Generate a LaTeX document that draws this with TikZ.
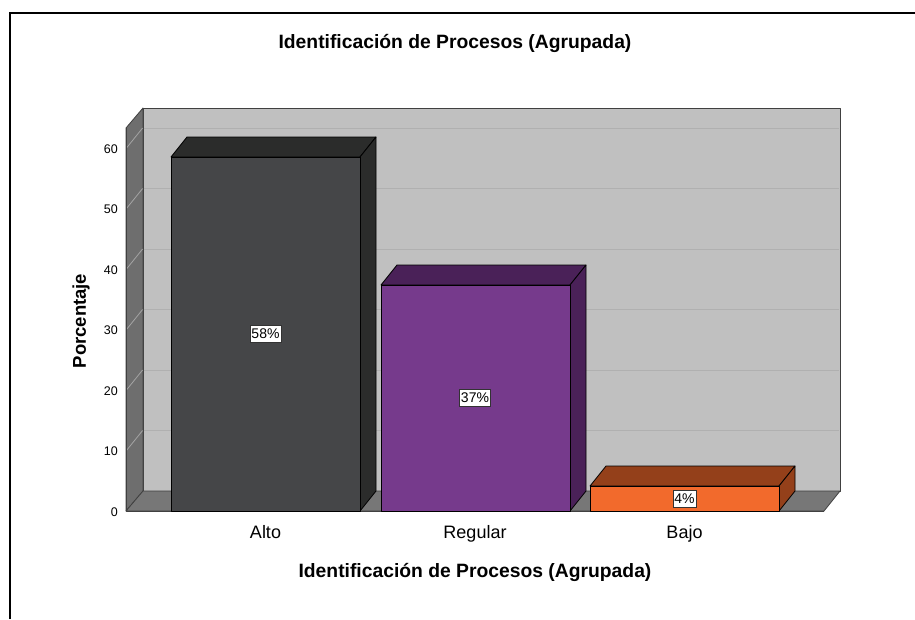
\documentclass[tikz,border=0pt]{standalone}
\usepackage{fontspec}
\setmainfont{Liberation Sans}
\definecolor{wallback}{HTML}{C0C0C0}
\definecolor{wallleft}{HTML}{6E6E6E}
\definecolor{wallfloor}{HTML}{777777}
\definecolor{gridback}{HTML}{B0B0B0}
\definecolor{gridleft}{HTML}{A4A4A4}
\definecolor{altofront}{HTML}{454648}
\definecolor{altodark}{HTML}{2B2C2B}
\definecolor{regfront}{HTML}{763A8C}
\definecolor{regdark}{HTML}{4A2158}
\definecolor{bajofront}{HTML}{F26A2C}
\definecolor{bajodark}{HTML}{94401A}
\newcommand\mybar[4]{%
  \filldraw[barline, fill=#4] (#1,#2) -- ++(16,-20) -- ++(189,0) -- ++(-16,20) -- cycle;
  \filldraw[barline, fill=#4] ({#1+189},#2) -- ++(16,-20) -- ({#1+205},491) -- ({#1+189},511) -- cycle;
  \filldraw[barline, fill=#3] (#1,#2) rectangle ({#1+189},511);
}
\begin{document}
\begin{tikzpicture}[x=1pt,y=-1pt,
  wall/.style={draw=black!75, line width=0.8pt, line join=round},
  barline/.style={draw=black, line width=0.8pt, line join=round},
  tick/.style={font=\fontsize{12.5}{14}\selectfont, anchor=base east, inner sep=0pt},
  cat/.style={font=\fontsize{18}{20}\selectfont, anchor=base, inner sep=0pt},
  pct/.style={draw=black!80, fill=white, line width=0.7pt, inner xsep=1.5pt, inner ysep=3.5pt, font=\fontsize{14}{15}\selectfont},
  bigtitle/.style={font=\bfseries\fontsize{19.3}{21}\selectfont, anchor=base, inner sep=0pt}]
\useasboundingbox (0,0) rectangle (915,619);
\fill[white] (0,0) rectangle (915,619);
% frame
\draw[line width=2pt] (10,619) -- (10,13) -- (915,13);
% walls
\filldraw[wall, fill=wallback] (143,108) rectangle (840,491);
\filldraw[wall, fill=wallleft] (126,128) -- (143,108) -- (143,491) -- (126,511) -- cycle;
\filldraw[wall, fill=wallfloor] (126,511) -- (143,491) -- (840,491) -- (824,511) -- cycle;
\foreach \v in {10,20,...,60}{
  \draw[gridback, line width=1pt] (143.6,{491-6.05*\v}) -- (839.4,{491-6.05*\v});
  \draw[gridleft, line width=0.8pt] (126.5,{511-6.05*\v}) -- (142.6,{491-6.05*\v});
}
\draw[wall] (126,128) -- (126,511) -- (824,511);
% tick labels
\foreach \v in {0,10,...,60}{
  \node[tick] (t\v) at (118,{511-6.05*\v+5}) {\v};
}
% bars
\mybar{171}{157}{altofront}{altodark}
\mybar{381}{285}{regfront}{regdark}
\mybar{590}{486}{bajofront}{bajodark}
% value labels
\node[pct] (p1) at (265.5,334) {58\%};
\node[pct] (p2) at (475,398) {37\%};
\node[pct] (p3) at (684.5,498.5) {4\%};
% category labels
\node[cat] (c1) at (265.5,538) {Alto};
\node[cat] (c2) at (475,538) {Regular};
\node[cat] (c3) at (684.5,538) {Bajo};
% titles
\node[bigtitle] (title) at (455,48.5) {Identificación de Procesos (Agrupada)};
\node[bigtitle] (xtitle) at (475,577) {Identificación de Procesos (Agrupada)};
\node[font=\bfseries\fontsize{18.5}{20}\selectfont, rotate=90, inner sep=0pt] (ytitle) at (81,321) {Porcentaje};
\end{tikzpicture}
\end{document}
